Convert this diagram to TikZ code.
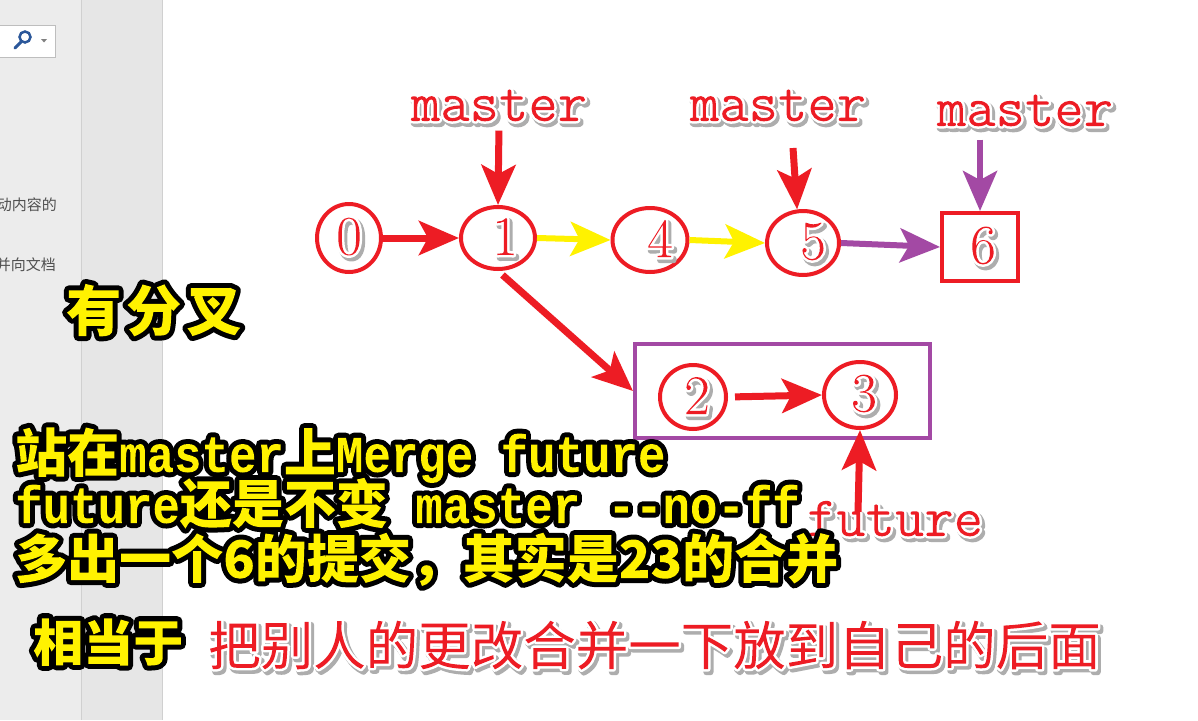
\documentclass[tikz,border=0pt]{standalone}
\usepackage{fontspec}
\usetikzlibrary{arrows.meta,shapes.geometric}
\setmainfont{Latin Modern Roman}
\newfontfamily\cjk{Noto Sans CJK SC}
\newfontfamily\ymono{Liberation Mono}[FakeStretch=0.88]
\newfontfamily\lmono{Latin Modern Mono}
\newfontfamily\lroman{Latin Modern Roman}
\definecolor{gred}{RGB}{237,28,36}
\definecolor{gyel}{RGB}{255,242,0}
\definecolor{gpur}{RGB}{163,73,164}
\definecolor{panelA}{RGB}{236,236,236}
\definecolor{panelB}{RGB}{230,230,230}
\definecolor{panelline}{RGB}{208,208,208}
\definecolor{boxgray}{RGB}{190,190,190}
\definecolor{magblue}{RGB}{43,87,154}
\definecolor{sidetext}{RGB}{80,80,80}
% yellow text: black outline stroked, glyphs added to clip, then filled yellow
\newcommand\yout[2][10]{\special{pdf:literal direct q 0 g 0 G 6 Tr #1 w 1 j}#2\special{pdf:literal direct 1 0.949 0 rg -20000 -20000 40000 40000 re f Q}}
% red text: grey drop shadow, white outline, red fill
\newcommand\rout[1]{\makebox[0pt][l]{\raisebox{-3pt}{\hspace*{2.5pt}\special{pdf:literal direct q 0.68 g 0.68 G 2 Tr 6 w 1 j}#1\special{pdf:literal direct Q}}}\special{pdf:literal direct q 1 g 1 G 6 Tr 5 w 1 j}#1\special{pdf:literal direct 0.929 0.110 0.141 rg -20000 -20000 40000 40000 re f Q}}
\newcommand\yc{\cjk\bfseries\fontsize{52}{52}\selectfont}
\newcommand\ym{\ymono\bfseries\fontsize{52}{52}\selectfont}
\begin{document}
\begin{tikzpicture}[x=1pt,y=-1pt,
  every node/.style={inner sep=0pt},
  commit/.style={ellipse,draw=gred,line width=4pt,text=gred,font=\lroman\fontsize{56}{56}\selectfont},
  merged/.style={rectangle,draw=gred,line width=4pt,text=gred,font=\lroman\fontsize{56}{56}\selectfont},
  branchbox/.style={rectangle,draw=gpur,line width=4pt},
  reflabel/.style={text=gred,font=\lmono\fontsize{57}{57}\selectfont,anchor=base},
  ytext/.style={text=gyel,anchor=base west},
  redtext/.style={text=gred,anchor=base west,font=\cjk\fontsize{52.5}{52.5}\selectfont},
  tipshape/.style={-{Stealth[length=40pt,width=34pt,inset=9pt]}},
  redarr/.style={draw=gred,line width=7pt,tipshape},
  yelarr/.style={draw=gyel,line width=6pt,tipshape},
  purarr/.style={draw=gpur,line width=6pt,tipshape},
  sidelabel/.style={text=sidetext,anchor=east,font=\cjk\fontsize{15}{15}\selectfont}
]
\useasboundingbox (0,0) rectangle (1198,720);
\clip (0,0) rectangle (1198,720);
\fill[white] (0,0) rectangle (1198,720);
% sidebar
\fill[panelA] (0,0) rectangle (81,720);
\fill[panelB] (81,0) rectangle (162,720);
\draw[panelline,line width=1pt] (81,0) -- (81,720);
\draw[panelline,line width=1pt] (162.5,0) -- (162.5,720);
\node[draw=boxgray,fill=white,line width=1pt,minimum width=62pt,minimum height=32pt] (search) at (24,41) {};
\draw[magblue,line width=2.5pt] (25,37) circle[radius=5.5pt];
\draw[magblue,line width=3pt,line cap=round] (21,42) -- (15,48);
\fill[gray] (41,39) -- (47,39) -- (44,42.5) -- cycle;
\node[sidelabel] (s1) at (57,205) {动内容的};
\node[sidelabel] (s2) at (56,265) {并向文档};
% branch box
\node[branchbox,minimum width=295pt,minimum height=94pt] (fbox) at (782.5,391) {};
% commits
\node[commit,minimum width=64pt,minimum height=68pt] (n0) at (349,238) {\rout{0}};
\node[commit,minimum width=74pt,minimum height=62pt] (n1) at (498,238) {\hspace*{14pt}\rout{1}};
\node[commit,minimum width=75pt,minimum height=64pt] (n4) at (650,240) {\hspace*{20pt}\rout{4}};
\node[commit,minimum width=72pt,minimum height=64pt] (n5) at (803,243) {\hspace*{20pt}\rout{5}};
\node[merged,minimum width=76pt,minimum height=68pt] (n6) at (980,247) {\hspace*{6pt}\rout{6}};
\node[commit,minimum width=66pt,minimum height=64pt] (n2) at (693,397) {\hspace*{8pt}\rout{2}};
\node[commit,minimum width=72pt,minimum height=66pt] (n3) at (860,395) {\hspace*{8pt}\rout{3}};
% labels
\node[reflabel] (m1) at (499,121) {\rout{master}};
\node[reflabel] (m2) at (778,121) {\rout{master}};
\node[reflabel] (m3) at (1025,126) {\rout{master}};
\node[reflabel] (fut) at (895,536) {\rout{future}};
\coordinate (m2tail) at (793,148);
\coordinate (ftail) at (858,512);
% connectors
\draw[redarr] (n0.east) -- (n1.west);
\draw[yelarr] (n1.east) -- (n4.west);
\draw[yelarr] (n4.east) -- (n5.west);
\draw[purarr] (n5.east) -- (n6.west);
\draw[redarr,shorten <=6pt] (n1.south) -- (fbox.west);
\draw[redarr,shorten <=7pt] (n2.east) -- (n3.west);
\draw[redarr,shorten <=6pt] (m1.south) -- (n1.north);
\draw[redarr] (m2tail) -- (n5.100);
\draw[purarr,shorten <=10pt] (m3.south -| n6.north) -- (n6.north);
\draw[redarr] (ftail) -- (n3.south);
% texts
\node[ytext] (fork) at (66,331) {\yout{\cjk\bfseries\fontsize{55}{55}\selectfont 有\hspace{5pt}分\hspace{5pt}叉}};
\node[ytext] (l1) at (15,472) {\yout{\yc 站在\ym master\yc 上\ym Merge future}};
\node[ytext] (l2) at (15,523) {\yout{\ym future\yc 还是不变\ym{} master -{}-no-ff}};
\node[ytext] (l3) at (15,578) {\yout{\yc 多出一个6的提交，其实是23的合并}};
\node[ytext] (eq) at (33,661) {\yout{\cjk\bfseries\fontsize{50}{50}\selectfont 相当于}};
\node[redtext] (note) at (208,665) {\rout{把别人的更改合并一下放到自己的后面}};
\end{tikzpicture}
\end{document}
